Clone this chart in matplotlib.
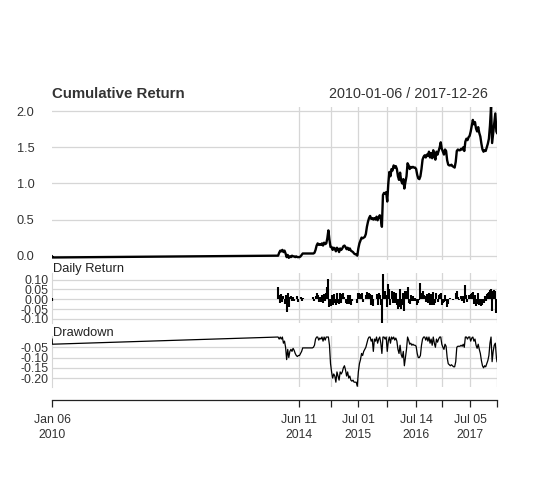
import numpy as np
import pandas as pd
import matplotlib
matplotlib.use("Agg")
import matplotlib.pyplot as plt
import matplotlib.dates as mdates

plt.rcParams['font.family'] = ['Liberation Sans', 'DejaVu Sans']

# --- data ---
dates_2010 = ['2010-01-06', '2010-01-07', '2010-01-08']
cum_2010 = [-0.01, -0.015, -0.025]
ret_2010 = [0.008, -0.01, -0.01]
dd_2010 = [-0.01, -0.015, -0.035]

# weekly observations from 2014-01-24, plus the last day 2017-12-26
weekly_start = '2014-01-24'
weekly_count = 205
last_day = '2017-12-26'

cum_2014 = [
    0.00, 0.04, 0.07, 0.06, 0.08, 0.05, 0.07, 0.03, -0.02, 0.01,
    -0.03, -0.01, -0.02, 0.00, -0.01, -0.01, -0.02, -0.01, -0.02, -0.02,
    -0.02, -0.01, 0.01, 0.03, 0.03, 0.03, 0.03, 0.03, 0.03, 0.03,
    0.03, 0.03, 0.03, 0.03, 0.04, 0.08, 0.14, 0.17, 0.15, 0.16,
    0.15, 0.17, 0.14, 0.18, 0.16, 0.17, 0.24, 0.35, 0.22, 0.12,
    0.12, 0.08, 0.11, 0.10, 0.06, 0.11, 0.09, 0.05, 0.10, 0.08,
    0.10, 0.13, 0.14, 0.12, 0.09, 0.11, 0.08, 0.10, 0.07, 0.06,
    0.05, 0.03, 0.02, 0.02, 0.00, 0.10, 0.17, 0.21, 0.25, 0.24,
    0.25, 0.26, 0.30, 0.40, 0.47, 0.52, 0.55, 0.51, 0.52, 0.50,
    0.52, 0.50, 0.54, 0.49, 0.53, 0.56, 0.51, 0.40, 0.84, 0.87,
    0.86, 0.88, 0.75, 1.00, 1.16, 1.10, 1.20, 1.18, 1.25, 1.22,
    1.24, 1.20, 1.10, 1.05, 1.15, 1.04, 1.00, 1.06, 0.93, 1.02,
    1.10, 1.28, 1.25, 1.20, 1.23, 1.22, 1.23, 1.22, 1.22, 1.20,
    1.12, 1.07, 1.06, 1.10, 1.20, 1.33, 1.37, 1.39, 1.36, 1.40,
    1.38, 1.44, 1.36, 1.42, 1.35, 1.46, 1.38, 1.33, 1.44, 1.40,
    1.45, 1.50, 1.57, 1.48, 1.44, 1.40, 1.47, 1.45, 1.32, 1.26,
    1.25, 1.25, 1.26, 1.24, 1.23, 1.22, 1.30, 1.45, 1.47, 1.46,
    1.46, 1.48, 1.47, 1.50, 1.45, 1.58, 1.62, 1.60, 1.64, 1.66,
    1.72, 1.80, 1.88, 1.82, 1.85, 1.76, 1.72, 1.78, 1.70, 1.65,
    1.55, 1.47, 1.44, 1.46, 1.45, 1.50, 1.55, 1.62, 1.80, 2.06,
    1.56, 1.70, 1.85, 1.97, 1.72, 1.70,
]

ret_2014 = [
    0.06, 0.02, -0.02, 0.025, -0.015, 0.015, -0.026, 0.02, -0.067, 0.03,
    -0.04, 0.01, 0.015, -0.01, 0.012, -0.008, 0.0, 0.0, 0.015, -0.012,
    0.0, 0.01, -0.01, 0.008, 0.0, 0.0, 0.0, 0.0, 0.0, 0.0,
    0.0, 0.0, 0.0, 0.012, -0.01, 0.015, 0.03, 0.02, -0.015, 0.01,
    -0.012, 0.02, -0.02, 0.025, -0.01, 0.03, 0.06, 0.105, -0.04, -0.035,
    0.02, -0.03, 0.025, -0.02, -0.03, 0.03, -0.02, -0.025, 0.03, -0.02,
    0.025, 0.03, 0.01, -0.02, -0.025, 0.02, -0.025, 0.02, -0.03, -0.01,
    0.0, 0.0, 0.0, 0.0, -0.02, 0.03, 0.03, 0.025, 0.03, -0.015,
    0.0, 0.0, 0.02, 0.035, 0.03, 0.03, 0.025, -0.03, 0.02, -0.035,
    0.0, 0.0, 0.025, -0.03, 0.03, 0.02, -0.03, -0.12, 0.13, 0.03,
    0.04, 0.02, -0.04, 0.08, 0.05, -0.03, 0.04, -0.02, 0.035, -0.02,
    0.03, -0.03, -0.05, -0.04, 0.05, -0.05, -0.03, 0.03, -0.06, 0.04,
    0.04, 0.06, -0.02, -0.025, 0.02, -0.01, 0.015, -0.01, 0.005, -0.01,
    -0.03, -0.02, -0.005, 0.085, 0.03, 0.04, 0.02, 0.015, -0.015, 0.025,
    -0.02, 0.03, -0.03, 0.025, -0.03, 0.035, -0.03, -0.02, 0.03, -0.015,
    0.02, 0.025, 0.03, -0.03, -0.02, -0.015, 0.02, -0.01, -0.04, -0.025,
    0.0, 0.005, 0.0, -0.005, 0.0, 0.0, 0.03, 0.04, 0.01, -0.005,
    0.0, 0.015, -0.01, 0.015, -0.02, 0.075, 0.02, -0.015, 0.02, 0.015,
    0.025, 0.03, 0.035, -0.025, 0.02, -0.035, -0.025, 0.03, -0.03, -0.03,
    -0.035, -0.03, -0.02, 0.015, -0.01, 0.025, 0.03, 0.035, 0.045, 0.05,
    -0.06, 0.04, 0.045, 0.04, -0.07, -0.015,
]

dd_2014 = [
    0.0, -0.01, 0.0, -0.01, 0.0, -0.03, -0.02, -0.05, -0.11, -0.06,
    -0.10, -0.07, -0.06, -0.07, -0.055, -0.065, -0.08, -0.09, -0.095, -0.09,
    -0.09, -0.08, -0.07, -0.053, -0.053, -0.053, -0.053, -0.053, -0.053, -0.053,
    -0.053, -0.053, -0.053, -0.05, -0.04, -0.01, 0.0, 0.0, -0.015, -0.005,
    -0.01, 0.0, -0.02, 0.0, -0.015, 0.0, 0.0, 0.0, -0.04, -0.13,
    -0.17, -0.20, -0.18, -0.19, -0.22, -0.17, -0.19, -0.21, -0.17, -0.18,
    -0.17, -0.15, -0.14, -0.16, -0.19, -0.17, -0.20, -0.19, -0.21, -0.215,
    -0.21, -0.22, -0.22, -0.22, -0.24, -0.17, -0.13, -0.11, -0.08, -0.09,
    -0.07, -0.06, -0.05, -0.03, -0.01, 0.0, 0.0, -0.02, -0.01, -0.07,
    -0.01, -0.02, 0.0, -0.03, -0.01, 0.0, -0.03, -0.08, 0.0, 0.0,
    -0.01, 0.0, -0.07, -0.02, 0.0, -0.03, 0.0, -0.01, 0.0, -0.015,
    -0.005, -0.02, -0.06, -0.08, -0.04, -0.085, -0.10, -0.07, -0.14, -0.10,
    -0.06, 0.0, -0.015, -0.035, -0.03, -0.04, -0.035, -0.04, -0.04, -0.045,
    -0.08, -0.10, -0.10, -0.09, -0.04, -0.01, 0.0, 0.0, -0.015, 0.0,
    -0.02, 0.0, -0.03, -0.01, -0.04, 0.0, -0.03, -0.05, -0.01, -0.025,
    -0.01, 0.0, 0.0, -0.035, -0.05, -0.06, -0.035, -0.045, -0.10, -0.13,
    -0.135, -0.14, -0.135, -0.14, -0.145, -0.145, -0.12, -0.05, -0.045, -0.045,
    -0.045, -0.04, -0.045, -0.035, -0.05, 0.0, 0.0, -0.01, 0.0, 0.0,
    -0.02, -0.005, 0.0, -0.02, -0.01, -0.04, -0.055, -0.035, -0.06, -0.08,
    -0.115, -0.14, -0.15, -0.14, -0.145, -0.13, -0.115, -0.09, -0.03, 0.0,
    -0.12, -0.07, -0.04, -0.03, -0.10, -0.12,
]

tick_dates = ['2010-01-06', '2014-06-11', '2015-01-02', '2015-07-01', '2016-01-04',
              '2016-07-14', '2017-01-03', '2017-07-05', '2017-12-26']
tick_labels = ['Jan 06\n2010', 'Jun 11\n2014', '', 'Jul 01\n2015', '',
               'Jul 14\n2016', '', 'Jul 05\n2017', '']

cum_ticks = [0.0, 0.5, 1.0, 1.5, 2.0]
ret_ticks = [0.10, 0.05, 0.0, -0.05, -0.10]
dd_ticks = [-0.05, -0.10, -0.15, -0.20]

# --- build series ---
idx = (list(pd.to_datetime(dates_2010))
       + list(pd.date_range(weekly_start, periods=weekly_count, freq='7D'))
       + [pd.Timestamp(last_day)])
x = mdates.date2num(pd.DatetimeIndex(idx).to_pydatetime())
cum = np.array(cum_2010 + cum_2014)
ret = np.array(ret_2010 + ret_2014)
dd = np.array(dd_2010 + dd_2014)
xt = mdates.date2num(pd.to_datetime(tick_dates).to_pydatetime())

W, H = 549, 486
grid_col = '#d6d6d6'
txt_col = '#333333'

fig = plt.figure(figsize=(W / 100, H / 100), dpi=100)


def panel(top, bottom):
    ax = fig.add_axes([52 / W, 1 - bottom / H, 445 / W, (bottom - top) / H])
    for s in ax.spines.values():
        s.set_visible(False)
    ax.set_xlim(x[0], x[-1])
    ax.set_xticks([])
    for t in xt[1:]:
        ax.axvline(t, color=grid_col, lw=0.9, zorder=0)
    return ax


# cumulative return
ax1 = panel(106.5, 260)
for v in cum_ticks:
    ax1.axhline(v, color=grid_col, lw=0.9, zorder=0)
ax1.plot(x, cum, color='black', lw=1.7, zorder=3)
ax1.set_ylim(-0.06, 2.066)
ax1.set_yticks(cum_ticks)
ax1.set_yticklabels(['%.1f' % v for v in cum_ticks])
ax1.tick_params(axis='y', length=0, pad=12.7, labelsize=9.2, labelcolor=txt_col)

# daily return
ax2 = panel(272.7, 323.3)
for v in ret_ticks:
    ax2.axhline(v, color=grid_col, lw=0.9, zorder=0)
ax2.spines['left'].set_visible(True)
ax2.spines['left'].set_color(grid_col)
ax2.vlines(x, 0, ret, color='black', lw=1.5, zorder=3)
ax2.set_ylim(-0.122, 0.135)
ax2.set_yticks(ret_ticks)
ax2.set_yticklabels(['%.2f' % v for v in ret_ticks])
ax2.tick_params(axis='y', length=0, pad=2.7, labelsize=8.9, labelcolor=txt_col)

# drawdown
ax3 = panel(336, 386.7)
for v in dd_ticks:
    ax3.axhline(v, color=grid_col, lw=0.9, zorder=0)
ax3.spines['left'].set_visible(True)
ax3.spines['left'].set_color(grid_col)
ax3.plot(x, dd, color='black', lw=0.9, zorder=3)
ax3.set_ylim(-0.242, 0.005)
ax3.set_yticks(dd_ticks)
ax3.set_yticklabels(['%.2f' % v for v in dd_ticks])
ax3.tick_params(axis='y', length=0, pad=2.7, labelsize=8.9, labelcolor=txt_col)

ax3.spines['bottom'].set_visible(True)
ax3.spines['bottom'].set_position(('outward', 9.4))
ax3.spines['bottom'].set_color('#222222')
ax3.spines['bottom'].set_linewidth(0.9)
ax3.set_xticks(xt)
ax3.set_xticklabels(tick_labels)
ax3.tick_params(axis='x', direction='out', length=4.7, width=0.9, color='#222222',
                pad=5.3, labelsize=8.8, labelcolor=txt_col)
for lbl in ax3.get_xticklabels():
    lbl.set_linespacing(1.4)

fig.text(52 / W, 1 - 98.3 / H, 'Cumulative Return', fontsize=10.85, fontweight='bold',
         color=txt_col, ha='left', va='baseline')
fig.text(487.7 / W, 1 - 98.3 / H, '2010-01-06 / 2017-12-26', fontsize=10.4,
         color=txt_col, ha='right', va='baseline')
fig.text(52.7 / W, 1 - 271.5 / H, 'Daily Return', fontsize=9.25, color='#222222',
         ha='left', va='baseline')
fig.text(52.7 / W, 1 - 336 / H, 'Drawdown', fontsize=9.25, color='#222222',
         ha='left', va='baseline')

fig.savefig('out.png', dpi=100)
